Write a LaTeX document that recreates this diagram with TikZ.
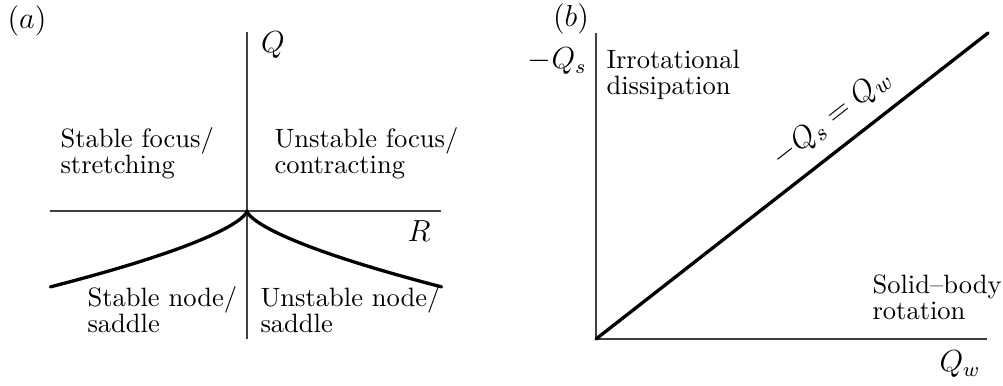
\documentclass[tikz,border=0pt]{standalone}
\begin{document}
\begin{tikzpicture}[x=0.394pt,y=-0.394pt,
  axis/.style={line width=0.5pt, black!75},
  curve/.style={line width=1.3pt, line cap=round},
  region/.style={inner sep=0pt, align=left, anchor=base west, font=\fontsize{10.45}{10.6}\selectfont},
  lab/.style={inner sep=0pt, font=\fontsize{11.5}{13}\selectfont}]
\useasboundingbox (0,0) rectangle (1003,386);
% ---------- panel (a)
\node[lab] (pa) at (27,21) {$(a)$};
\coordinate (ot) at (247,32);
\coordinate (ob) at (247,339);
\coordinate (ol) at (50,211);
\coordinate (or) at (441,211);
\coordinate (o) at (247,211);
\draw[axis] (ot) -- (ob);
\draw[axis] (ol) -- (or);
\draw[curve] plot[domain=0:1,samples=60] ({247-197*\x*\x*\x},{211+76*\x*\x});
\draw[curve] plot[domain=0:1,samples=60] ({247+195*\x*\x*\x},{211+76*\x*\x});
\node[lab] (Q) at (273,45) {$Q$};
\node[lab] (R) at (419,231) {$R$};
\node[region] (sf) at (60,174) {Stable focus/\\stretching};
\node[region] (uf) at (274,174) {Unstable focus/\\contracting};
\node[region] (sn) at (87,333) {Stable node/\\saddle};
\node[region] (un) at (260,333) {Unstable node/\\saddle};
% ---------- panel (b)
\node[lab] (pb) at (571,19) {$(b)$};
\coordinate (bo) at (596,339);
\coordinate (bt) at (596,33);
\coordinate (br) at (987,339);
\coordinate (bd) at (988,33);
\draw[axis] (bt) -- (bo) -- (br);
\draw[curve] (bo) -- (bd);
\node[lab, anchor=east] (qs) at (587,61) {$-Q_s$};
\node[lab] (qw) at (960,364) {$Q_w$};
\node[region] (ir) at (606,95) {Irrotational\\dissipation};
\node[region] (sb) at (872,320) {Solid--body\\rotation};
\node[lab, rotate=38, font=\fontsize{12.5}{14}\selectfont] (eq) at (832,118) {$-Q_s=Q_w$};
\end{tikzpicture}
\end{document}
